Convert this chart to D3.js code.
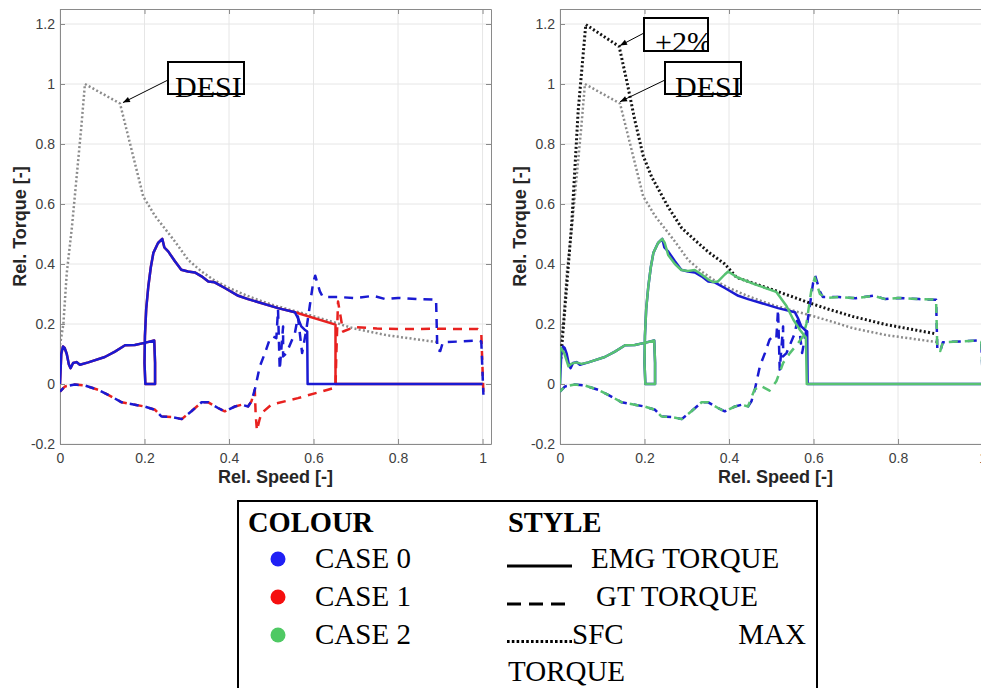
<!DOCTYPE html>
<html lang="en">
<head>
<meta charset="utf-8">
<title>Rel. Torque vs Rel. Speed</title>
<script src="https://d3js.org/d3.v7.min.js"></script>
<style>
  body { margin: 0; background: #fff; }
  svg { display: block; }
</style>
</head>
<body>
<script>
// ---- data (rel. speed, rel. torque) ----
var xTicks = [0, 0.2, 0.4, 0.6, 0.8, 1];
var yTicks = [-0.2, 0, 0.2, 0.4, 0.6, 0.8, 1, 1.2];

var sfcDesign = [[0,0.13],[0.008,0.2],[0.016,0.37],[0.028,0.52],[0.04,0.7],[0.05,0.85],[0.059,1.0],
  [0.142,0.935],[0.197,0.625],[0.225,0.56],[0.25,0.515],[0.272,0.475],[0.303,0.414],[0.335,0.375],
  [0.366,0.345],[0.4,0.32],[0.45,0.29],[0.5,0.265],[0.55,0.245],[0.6,0.226],[0.65,0.205],
  [0.693,0.186],[0.772,0.163],[0.89,0.14]];

var sfcPlus2 = [[0,0.055],[0.008,0.19],[0.02,0.4],[0.028,0.54],[0.043,0.91],[0.061,1.198],[0.14,1.125],
  [0.158,1.01],[0.177,0.88],[0.197,0.76],[0.217,0.69],[0.256,0.59],[0.288,0.52],[0.319,0.48],
  [0.351,0.44],[0.39,0.4],[0.418,0.355],[0.512,0.31],[0.591,0.27],[0.634,0.25],[0.693,0.225],
  [0.772,0.198],[0.887,0.168]];

var emgCase0 = [[0,0],[0.003,0.1],[0.007,0.125],[0.011,0.12],[0.016,0.1],[0.021,0.065],[0.025,0.053],
  [0.031,0.07],[0.039,0.073],[0.047,0.064],[0.067,0.072],[0.106,0.09],[0.13,0.108],[0.154,0.129],
  [0.177,0.13],[0.2,0.137],[0.223,0.145],[0.225,0.07],[0.225,0],[0.202,0],[0.2,0.07],[0.201,0.16],
  [0.204,0.25],[0.209,0.325],[0.215,0.39],[0.221,0.437],[0.232,0.47],[0.242,0.484],[0.247,0.455],
  [0.256,0.442],[0.272,0.409],[0.287,0.381],[0.303,0.375],[0.319,0.372],[0.335,0.359],[0.351,0.342],
  [0.366,0.339],[0.39,0.32],[0.422,0.294],[0.445,0.283],[0.516,0.253],[0.556,0.239],[0.563,0.22],
  [0.571,0.192],[0.579,0.181],[0.585,0.175],[0.586,0],[1.0,0]];

var emgCase1 = [[0,0],[0.003,0.1],[0.007,0.125],[0.011,0.12],[0.016,0.1],[0.021,0.065],[0.025,0.053],
  [0.031,0.07],[0.039,0.073],[0.047,0.064],[0.067,0.072],[0.106,0.09],[0.13,0.108],[0.154,0.129],
  [0.177,0.13],[0.2,0.137],[0.223,0.145],[0.225,0.07],[0.225,0],[0.202,0],[0.2,0.07],[0.201,0.16],
  [0.204,0.25],[0.209,0.325],[0.215,0.39],[0.221,0.437],[0.232,0.47],[0.242,0.484],[0.247,0.455],
  [0.256,0.442],[0.272,0.409],[0.287,0.381],[0.303,0.375],[0.319,0.372],[0.335,0.359],[0.351,0.342],
  [0.366,0.339],[0.39,0.32],[0.422,0.294],[0.445,0.283],[0.516,0.253],[0.556,0.239],[0.652,0.198],
  [0.652,0],[1.0,0]];

var emgCase2 = [[0,0],[0,0.12],[0.002,0.12],[0.01,0.103],[0.02,0.059],[0.028,0.068],[0.039,0.072],
  [0.051,0.067],[0.067,0.072],[0.106,0.09],[0.13,0.108],[0.154,0.129],[0.177,0.13],[0.2,0.137],
  [0.223,0.145],[0.225,0.07],[0.225,0],[0.202,0],[0.2,0.07],[0.201,0.16],[0.204,0.25],[0.209,0.325],
  [0.215,0.39],[0.221,0.437],[0.232,0.47],[0.242,0.484],[0.248,0.47],[0.256,0.43],[0.272,0.4],
  [0.287,0.38],[0.303,0.377],[0.319,0.38],[0.335,0.365],[0.351,0.348],[0.362,0.34],[0.374,0.342],
  [0.39,0.365],[0.398,0.375],[0.42,0.355],[0.46,0.333],[0.512,0.307],[0.536,0.26],[0.552,0.215],
  [0.567,0.182],[0.582,0.155],[0.584,0],[1.0,0]];

var gtCase0 = [[0,-0.025],[0.012,-0.008],[0.035,-0.002],[0.059,-0.005],[0.09,-0.019],[0.114,-0.036],
  [0.146,-0.061],[0.177,-0.069],[0.2,-0.075],[0.225,-0.086],[0.24,-0.108],[0.264,-0.11],[0.288,-0.117],
  [0.311,-0.091],[0.335,-0.061],[0.351,-0.061],[0.374,-0.08],[0.39,-0.091],[0.414,-0.075],[0.43,-0.069],
  [0.445,-0.075],[0.453,-0.058],[0.461,-0.019],[0.473,0.059],[0.485,0.103],[0.496,0.148],[0.504,0.159],
  [0.512,0.153],[0.516,0.248],[0.52,0.048],[0.528,0.192],[0.528,0.092],[0.536,0.103],[0.556,0.17],
  [0.563,0.225],[0.573,0.103],[0.583,0.181],[0.591,0.259],[0.599,0.337],[0.604,0.361],[0.615,0.309],
  [0.622,0.29],[0.66,0.29],[0.7,0.286],[0.741,0.294],[0.77,0.283],[0.8,0.287],[0.85,0.283],[0.89,0.281],
  [0.893,0.114],[0.9,0.11],[0.906,0.139],[0.95,0.142],[0.989,0.145],[0.997,0.142],[1.002,-0.036]];

var gtCase1 = [[0,-0.025],[0.012,-0.008],[0.035,-0.002],[0.059,-0.005],[0.09,-0.019],[0.114,-0.036],
  [0.146,-0.061],[0.177,-0.069],[0.2,-0.075],[0.225,-0.086],[0.24,-0.108],[0.264,-0.11],[0.288,-0.117],
  [0.311,-0.091],[0.335,-0.061],[0.351,-0.061],[0.374,-0.08],[0.39,-0.091],[0.414,-0.075],[0.43,-0.069],
  [0.445,-0.075],[0.453,-0.058],[0.461,-0.019],[0.463,-0.1],[0.466,-0.155],[0.472,-0.12],[0.477,-0.097],
  [0.5,-0.069],[0.563,-0.047],[0.634,-0.019],[0.652,-0.012],[0.654,0.1],[0.658,0.275],[0.67,0.175],
  [0.697,0.19],[0.75,0.185],[0.8,0.183],[0.9,0.184],[0.989,0.183],[0.997,0.17],[1.0,0.048],[1.002,-0.03]];

var gtCase2 = [[0,-0.025],[0.012,-0.008],[0.035,-0.002],[0.059,-0.005],[0.09,-0.019],[0.114,-0.036],
  [0.146,-0.061],[0.177,-0.069],[0.2,-0.075],[0.225,-0.086],[0.24,-0.108],[0.264,-0.11],[0.288,-0.117],
  [0.311,-0.091],[0.335,-0.061],[0.351,-0.061],[0.374,-0.08],[0.39,-0.091],[0.414,-0.075],[0.43,-0.069],
  [0.445,-0.075],[0.449,-0.06],[0.46,-0.02],[0.473,-0.005],[0.496,-0.022],[0.512,0.009],[0.528,0.07],
  [0.544,0.103],[0.563,0.135],[0.575,0.159],[0.583,0.2],[0.595,0.314],[0.603,0.355],[0.615,0.3],
  [0.63,0.287],[0.66,0.29],[0.7,0.286],[0.741,0.294],[0.77,0.283],[0.8,0.287],[0.85,0.283],[0.89,0.281],
  [0.893,0.114],[0.9,0.11],[0.906,0.139],[0.95,0.142],[0.989,0.145],[0.997,0.142],[1.002,-0.036]];

var caseNames = ["CASE 0", "CASE 1", "CASE 2"];
var styleNames = ["EMG TORQUE", "GT TORQUE"];

// ---- layout ----
var w = 981, h = 688;
var padTop = 9, plotW = 431, plotH = 435;
var blue = "#1a1ad2", red = "#e8211f", green = "#57c272";

var svg = d3.select("body").append("svg").attr("width", w).attr("height", h);

var defs = svg.append("defs");
defs.append("marker").attr("id", "arrow")
  .attr("viewBox", "0 0 10 10").attr("refX", 10).attr("refY", 5)
  .attr("markerUnits", "userSpaceOnUse").attr("markerWidth", 9).attr("markerHeight", 7)
  .attr("orient", "auto")
  .append("path").attr("d", "M0,1L10,5L0,9z").attr("fill", "#000");

var x = d3.scaleLinear().domain([0, 1.02]).range([0, plotW]);
var y = d3.scaleLinear().domain([-0.2, 1.25]).range([plotH, 0]);
var line = d3.line().x(function(d) { return x(d[0]); }).y(function(d) { return y(d[1]); });
var fmt = function(d) { return String(+d.toFixed(1)); };

function drawPanel(left, id, series, notes) {
  var g = svg.append("g").attr("transform", "translate(" + left + "," + padTop + ")");

  defs.append("clipPath").attr("id", id)
    .append("rect").attr("width", plotW).attr("height", plotH);

  // grid
  g.selectAll(".gx").data(xTicks).enter().append("line")
    .attr("x1", function(d) { return x(d); }).attr("x2", function(d) { return x(d); })
    .attr("y1", 0).attr("y2", plotH).attr("stroke", "#e6e6e6");
  g.selectAll(".gy").data(yTicks).enter().append("line")
    .attr("y1", function(d) { return y(d); }).attr("y2", function(d) { return y(d); })
    .attr("x1", 0).attr("x2", plotW).attr("stroke", "#e6e6e6");

  // axes (box with inward ticks)
  var ax = [
    g.append("g").attr("transform", "translate(0," + plotH + ")")
      .call(d3.axisBottom(x).tickValues(xTicks).tickFormat(fmt).tickSizeInner(-5).tickSizeOuter(0).tickPadding(9)),
    g.append("g")
      .call(d3.axisLeft(y).tickValues(yTicks).tickFormat(fmt).tickSizeInner(-5).tickSizeOuter(0).tickPadding(5)),
    g.append("g")
      .call(d3.axisTop(x).tickValues(xTicks).tickFormat("").tickSizeInner(-5).tickSizeOuter(0)),
    g.append("g").attr("transform", "translate(" + plotW + ",0)")
      .call(d3.axisRight(y).tickValues(yTicks).tickFormat("").tickSizeInner(-5).tickSizeOuter(0))
  ];
  ax.forEach(function(a) {
    a.select(".domain").attr("stroke", "#8a8a8a");
    a.selectAll(".tick line").attr("stroke", "#8a8a8a");
    a.selectAll("text").attr("font-family", "Liberation Sans, Arial, sans-serif")
      .attr("font-size", 14).attr("fill", "#404040");
  });

  g.append("text").attr("x", plotW / 2).attr("y", 474).attr("text-anchor", "middle")
    .attr("font-family", "Liberation Sans, Arial, sans-serif").attr("font-weight", "bold")
    .attr("font-size", 18).attr("fill", "#262626").text("Rel. Speed [-]");
  g.append("text").attr("transform", "translate(-34," + (plotH / 2) + ") rotate(-90)")
    .attr("text-anchor", "middle")
    .attr("font-family", "Liberation Sans, Arial, sans-serif").attr("font-weight", "bold")
    .attr("font-size", 18).attr("fill", "#262626").text("Rel. Torque [-]");

  // curves
  var plot = g.append("g").attr("clip-path", "url(#" + id + ")");
  series.forEach(function(s) {
    var p = plot.append("path").datum(s.data).attr("d", line)
      .attr("fill", "none").attr("stroke", s.color).attr("stroke-width", s.width)
      .attr("stroke-linejoin", "round");
    if (s.kind === "dash") p.attr("stroke-dasharray", "9,7").attr("stroke-dashoffset", s.offset || 0);
    if (s.kind === "dot") p.attr("stroke-dasharray", "2,2.3");
  });

  // text-box annotations with arrows
  notes.forEach(function(n, i) {
    var b = n.box;
    var cid = id + "n" + i;
    defs.append("clipPath").attr("id", cid)
      .append("rect").attr("x", b[0]).attr("y", b[1]).attr("width", b[2]).attr("height", b[3] + 20);
    g.append("line").attr("x1", b[0]).attr("y1", n.from)
      .attr("x2", x(n.tip[0])).attr("y2", y(n.tip[1]))
      .attr("stroke", "#000").attr("stroke-width", 1).attr("marker-end", "url(#arrow)");
    g.append("rect").attr("x", b[0]).attr("y", b[1]).attr("width", b[2]).attr("height", b[3])
      .attr("fill", "none").attr("stroke", "#000").attr("stroke-width", 2);
    g.append("text").attr("clip-path", "url(#" + cid + ")")
      .attr("x", b[0] + n.dx).attr("y", b[1] + b[3] + n.dy)
      .attr("font-family", "Liberation Serif, Times New Roman, serif").attr("font-size", 30)
      .attr("fill", "#000").text(n.label);
  });
}

drawPanel(60, "clipL", [
  { data: sfcDesign, color: "#8c8c8c", kind: "dot", width: 2.5 },
  { data: gtCase1, color: red, kind: "dash", width: 2.5 },
  { data: gtCase0, color: blue, kind: "dash", width: 2.5, offset: 4 },
  { data: emgCase1, color: red, kind: "solid", width: 2.5 },
  { data: emgCase0, color: blue, kind: "solid", width: 2.5 }
], [
  { label: "DESI", box: [108, 53, 76, 32], from: 71, tip: [0.149, 0.938], dx: 7, dy: 3 }
]);

drawPanel(560, "clipR", [
  { data: sfcDesign, color: "#8c8c8c", kind: "dot", width: 2.5 },
  { data: sfcPlus2, color: "#141414", kind: "dot", width: 3 },
  { data: gtCase0, color: blue, kind: "dash", width: 2.5 },
  { data: gtCase2, color: green, kind: "dash", width: 2.5, offset: 4 },
  { data: emgCase0, color: blue, kind: "solid", width: 2.5 },
  { data: emgCase2, color: green, kind: "solid", width: 2.5 }
], [
  { label: "+2%", box: [84, 9, 64, 33], from: 24, tip: [0.142, 1.128], dx: 11, dy: 1 },
  { label: "DESI", box: [105, 53, 76, 32], from: 71, tip: [0.142, 0.941], dx: 10, dy: 3 }
]);

// ---- legend ----
var lg = svg.append("g");
var serif = "Liberation Serif, Times New Roman, serif";
lg.append("rect").attr("x", 238).attr("y", 501).attr("width", 579).attr("height", 200)
  .attr("fill", "#fff").attr("stroke", "#000").attr("stroke-width", 2);
lg.append("text").attr("x", 248).attr("y", 532).attr("font-family", serif).attr("font-weight", "bold")
  .attr("font-size", 28.5).text("COLOUR");
lg.append("text").attr("x", 508).attr("y", 532).attr("font-family", serif).attr("font-weight", "bold")
  .attr("font-size", 28.5).text("STYLE");

var caseColors = ["#2020f5", "#f50f0f", "#4fc964"];
caseNames.forEach(function(c, i) {
  lg.append("circle").attr("cx", 278).attr("cy", 559 + i * 38).attr("r", 7.5).attr("fill", caseColors[i]);
  lg.append("text").attr("x", 315).attr("y", 568 + i * 38).attr("font-family", serif)
    .attr("font-size", 29).text(c);
});

lg.append("line").attr("x1", 507).attr("x2", 572).attr("y1", 566).attr("y2", 566)
  .attr("stroke", "#000").attr("stroke-width", 3);
lg.append("line").attr("x1", 507).attr("x2", 566).attr("y1", 604).attr("y2", 604)
  .attr("stroke", "#000").attr("stroke-width", 3).attr("stroke-dasharray", "14,8");
lg.append("line").attr("x1", 507).attr("x2", 572).attr("y1", 641.5).attr("y2", 641.5)
  .attr("stroke", "#000").attr("stroke-width", 3).attr("stroke-dasharray", "2.6,2.2");
lg.append("text").attr("x", 591).attr("y", 568).attr("font-family", serif).attr("font-size", 29).text(styleNames[0]);
lg.append("text").attr("x", 596).attr("y", 606).attr("font-family", serif).attr("font-size", 29).text(styleNames[1]);
lg.append("text").attr("x", 572).attr("y", 644).attr("font-family", serif).attr("font-size", 29).text("SFC");
lg.append("text").attr("x", 806).attr("y", 644).attr("text-anchor", "end").attr("font-family", serif).attr("font-size", 29).text("MAX");
lg.append("text").attr("x", 508).attr("y", 681).attr("font-family", serif).attr("font-size", 29).text("TORQUE");
</script>
</body>
</html>
